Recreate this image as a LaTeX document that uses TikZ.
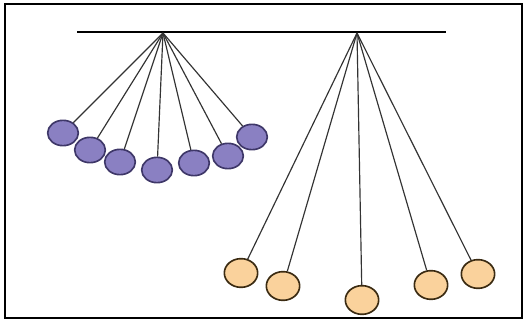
\documentclass[tikz,border=0pt]{standalone}
\usepackage{tikz}
\usetikzlibrary{shapes.geometric}
\definecolor{bobpurple}{HTML}{8A80C2}
\definecolor{bobpurpledark}{HTML}{3E3768}
\definecolor{bobgold}{HTML}{FAD29C}
\definecolor{bobgolddark}{HTML}{3B2B12}
\definecolor{stringgray}{HTML}{333333}

\begin{document}
\begin{tikzpicture}[
    x=0.03cm, y=-0.03cm,
    bar/.style={line width=1.8pt, black},
    wire/.style={line width=1pt, draw=stringgray},
    smallbob/.style={ellipse, draw=bobpurpledark, fill=bobpurple, line width=1.4pt, minimum width=0.92cm, minimum height=0.76cm, inner sep=0pt},
    bigbob/.style={ellipse, draw=bobgolddark, fill=bobgold, line width=1.4pt, minimum width=1cm, minimum height=0.86cm, inner sep=0pt}
  ]
    \useasboundingbox (0,0) rectangle (528,321);
    \draw[line width=0.9pt] (5,4) rectangle (522,318);

    % ceiling bar and the two pivots
    \draw[bar] (77,32) -- (446,32);
    \coordinate (p1) at (163,33);
    \coordinate (p2) at (357,33);

    % left pendulum: seven small bobs
    \node[smallbob] (s1) at (63,133) {};
    \node[smallbob] (s2) at (90,150) {};
    \node[smallbob] (s3) at (120,162) {};
    \node[smallbob] (s4) at (157,170) {};
    \node[smallbob] (s5) at (194,163) {};
    \node[smallbob] (s6) at (228,156) {};
    \node[smallbob] (s7) at (252,137) {};

    % right pendulum: five big bobs
    \node[bigbob] (g1) at (241,273) {};
    \node[bigbob] (g2) at (283,286) {};
    \node[bigbob] (g3) at (362,300) {};
    \node[bigbob] (g4) at (431,285) {};
    \node[bigbob] (g5) at (478,274) {};

    \foreach \b in {s1,s2,s3,s4,s5,s6,s7}
      \draw[wire] (p1) -- (\b);
    \foreach \b in {g1,g2,g3,g4,g5}
      \draw[wire] (p2) -- (\b);
  \end{tikzpicture}
\end{document}
